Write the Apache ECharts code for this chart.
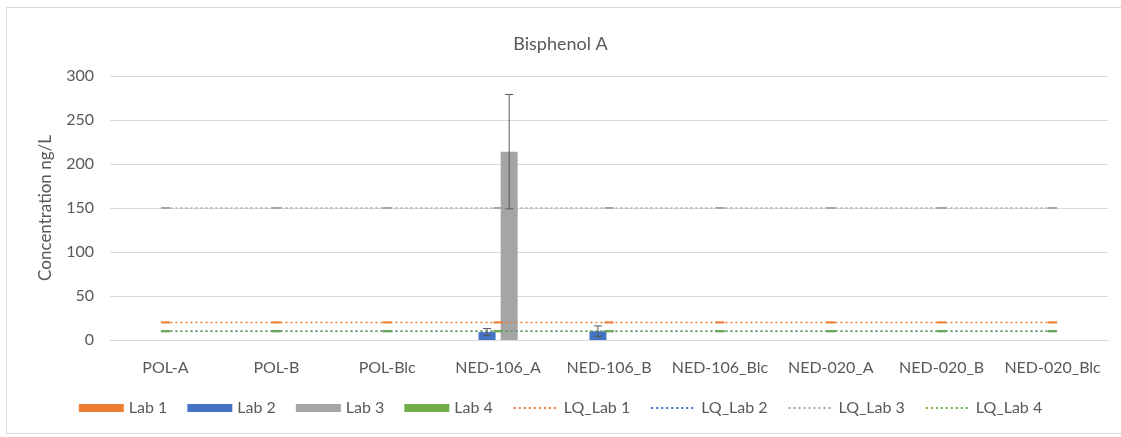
<!DOCTYPE html>
<html>
<head>
<meta charset="utf-8">
<script src="https://cdn.jsdelivr.net/npm/echarts@6/dist/echarts.min.js"></script>
<style>
  html, body { margin: 0; padding: 0; background: #fff; overflow: hidden; }
  #frame { position: absolute; left: 6px; top: 7px; width: 1130px; height: 427px; border: 1px solid #d9d9d9; box-sizing: border-box; }
  #chart { position: absolute; left: 0; top: 0; width: 1121px; height: 437px; }
</style>
</head>
<body>
<div id="frame"></div>
<div id="chart"></div>
<script>
// ---- data ----
const categories = ['POL-A', 'POL-B', 'POL-Blc', 'NED-106_A', 'NED-106_B', 'NED-106_Blc', 'NED-020_A', 'NED-020_B', 'NED-020_Blc'];
const lab1 = [0, 0, 0, 0, 0, 0, 0, 0, 0];
const lab2 = [0, 0, 0, 9, 10, 0, 0, 0, 0];
const lab2Err = [0, 0, 0, 4, 6, 0, 0, 0, 0];
const lab3 = [0, 0, 0, 214, 0, 0, 0, 0, 0];
const lab3Err = [0, 0, 0, 65, 0, 0, 0, 0, 0];
const lab4 = [0, 0, 0, 0, 0, 0, 0, 0, 0];
const lqLab1 = [20, 20, 20, 20, 20, 20, 20, 20, 20];
const lqLab2 = [10, 10, 10, 10, 10, 10, 10, 10, 10];
const lqLab3 = [150, 150, 150, 150, 150, 150, 150, 150, 150];
const lqLab4 = [10, 10, 10, 10, 10, 10, 10, 10, 10];
const yTicks = [0, 50, 100, 150, 200, 250, 300];

// ---- style ----
const FONT = 'Lato';
const TXT = '#595959';
const C = { orange: '#ED7D31', blue: '#4472C4', gray: '#A5A5A5', green: '#70AD47' };
const BAR_W = 17;
const BAR_GAP = 0.3; // fraction of bar width
const NBARS = 4;

function barOffset(i) {
  const g = BAR_W * BAR_GAP;
  const total = NBARS * BAR_W + (NBARS - 1) * g;
  return -total / 2 + i * (BAR_W + g) + BAR_W / 2;
}

function errSeries(vals, errs, barIndex) {
  const data = [];
  vals.forEach((v, i) => { if (errs[i]) data.push([i, v, errs[i]]); });
  return {
    type: 'custom',
    name: 'err' + barIndex,
    z: 5,
    data: data,
    renderItem: function (params, api) {
      const x = api.value(0), v = api.value(1), e = api.value(2);
      const top = api.coord([x, v + e]);
      const bot = api.coord([x, Math.max(v - e, 0)]);
      const cx = top[0] + barOffset(barIndex);
      const cap = 4;
      const st = { stroke: '#595959', lineWidth: 1 };
      return {
        type: 'group',
        children: [
          { type: 'line', shape: { x1: cx, y1: top[1], x2: cx, y2: bot[1] }, style: st },
          { type: 'line', shape: { x1: cx - cap, y1: top[1], x2: cx + cap, y2: top[1] }, style: st },
          { type: 'line', shape: { x1: cx - cap, y1: bot[1], x2: cx + cap, y2: bot[1] }, style: st }
        ]
      };
    }
  };
}

function barSeries(name, data, color) {
  return { type: 'bar', name: name, data: data, barWidth: BAR_W, barGap: (BAR_GAP * 100) + '%', itemStyle: { color: color }, z: 2 };
}

function lqSeries(name, data, color) {
  return {
    type: 'line', name: name, data: data, z: 4,
    symbol: 'rect', symbolSize: [9, 2], showSymbol: true,
    itemStyle: { color: color },
    lineStyle: { color: color, width: 1.5, type: [2, 3] },
    emphasis: { disabled: true }
  };
}

const chart = echarts.init(document.getElementById('chart'), null, { renderer: 'canvas' });
chart.setOption({
  animation: false,
  backgroundColor: 'transparent',
  title: {
    text: 'Bisphenol A', left: 'center', top: 30,
    textStyle: { fontFamily: FONT, fontSize: 18, fontWeight: 'normal', color: TXT }
  },
  grid: { left: 110, right: 13, top: 76, bottom: 97, containLabel: false },
  legend: {
    bottom: 16, left: 'center',
    itemWidth: 45, itemHeight: 8, itemGap: 20,
    textStyle: { fontFamily: FONT, fontSize: 16, color: TXT },
    data: [
      { name: 'Lab 1', icon: 'rect' },
      { name: 'Lab 2', icon: 'rect' },
      { name: 'Lab 3', icon: 'rect' },
      { name: 'Lab 4', icon: 'rect' },
      { name: 'LQ_Lab 1', itemStyle: { opacity: 0 } },
      { name: 'LQ_Lab 2', itemStyle: { opacity: 0 } },
      { name: 'LQ_Lab 3', itemStyle: { opacity: 0 } },
      { name: 'LQ_Lab 4', itemStyle: { opacity: 0 } }
    ]
  },
  xAxis: {
    type: 'category', data: categories,
    axisLine: { show: true, lineStyle: { color: '#d9d9d9' } },
    axisTick: { show: false },
    axisLabel: { fontFamily: FONT, fontSize: 16, color: TXT, margin: 20, interval: 0 }
  },
  yAxis: {
    type: 'value', min: yTicks[0], max: yTicks[yTicks.length - 1], interval: yTicks[1] - yTicks[0],
    name: 'Concentration ng/L', nameLocation: 'middle', nameGap: 56, nameRotate: 90,
    nameTextStyle: { fontFamily: FONT, fontSize: 17, color: TXT },
    axisLine: { show: false }, axisTick: { show: false },
    axisLabel: { fontFamily: FONT, fontSize: 16, color: TXT, margin: 16 },
    splitLine: { lineStyle: { color: '#d9d9d9', width: 1 } }
  },
  series: [
    barSeries('Lab 1', lab1, C.orange),
    barSeries('Lab 2', lab2, C.blue),
    barSeries('Lab 3', lab3, C.gray),
    barSeries('Lab 4', lab4, C.green),
    lqSeries('LQ_Lab 1', lqLab1, C.orange),
    lqSeries('LQ_Lab 2', lqLab2, C.blue),
    lqSeries('LQ_Lab 3', lqLab3, C.gray),
    lqSeries('LQ_Lab 4', lqLab4, C.green),
    errSeries(lab2, lab2Err, 1),
    errSeries(lab3, lab3Err, 2)
  ]
});
</script>
</body>
</html>
